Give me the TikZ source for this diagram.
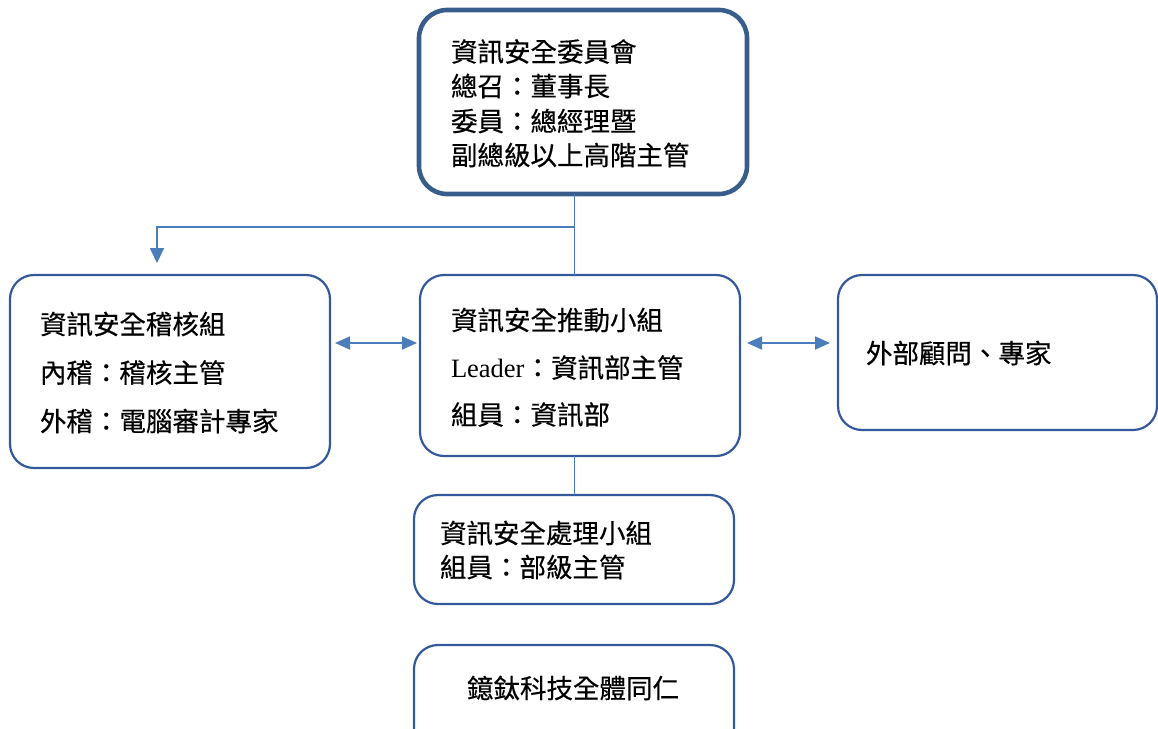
\documentclass[tikz,border=0pt]{standalone}
\usepackage{fontspec}
\setmainfont{Liberation Serif}
\newfontfamily\cjk[FakeBold=0.4]{Noto Sans CJK TC}
\usetikzlibrary{arrows.meta,calc}
\definecolor{topc}{HTML}{385D8A}
\definecolor{boxc}{HTML}{34599A}
\definecolor{arrc}{HTML}{4A7EBB}
\begin{document}
\begin{tikzpicture}[x=1pt,y=-1pt,
  box/.style={draw=boxc, line width=2.2pt, rectangle, rounded corners=24pt, inner sep=0pt, outer sep=0pt},
  topbox/.style={box, draw=topc, line width=4.6pt, rounded corners=28pt},
  txt/.style={anchor=west, inner sep=0pt, outer sep=0pt, font=\cjk\fontsize{26.5}{30}\selectfont},
  conn/.style={draw=arrc, line width=1.8pt},
  tip/.style={-{Triangle[length=15pt,width=14pt]}},
  dbl/.style={{Triangle[length=15pt,width=13pt]}-{Triangle[length=15pt,width=13pt]}}]
\useasboundingbox (0,0) rectangle (1158,728);
% boxes
\node[topbox, minimum width=328pt, minimum height=184pt] (top) at (583,102) {};
\node[box, minimum width=320pt, minimum height=193pt] (left) at (170,371.5) {};
\node[box, minimum width=320pt, minimum height=181pt] (mid) at (580,365.5) {};
\node[box, minimum width=319pt, minimum height=155pt] (right) at (997.5,352.5) {};
\node[box, minimum width=320pt, minimum height=109pt] (proc) at (574,549.5) {};
\node[box, minimum width=320pt, minimum height=115pt] (all) at (574,702.5) {};
% texts
\node[txt] (t1) at (451,51.5) {資訊安全委員會};
\node[txt] (t2) at (451,86) {總召：董事長};
\node[txt] (t3) at (451,121) {委員：總經理暨};
\node[txt] (t4) at (451,155) {副總級以上高階主管};
\node[txt] (l1) at (40,324) {資訊安全稽核組};
\node[txt] (l2) at (40,372.5) {內稽：稽核主管};
\node[txt] (l3) at (40,421) {外稽：電腦審計專家};
\node[txt] (m1) at (451,320) {資訊安全推動小組};
\node[txt] (m2) at (451,367.5) {{\rmfamily Leader}：資訊部主管};
\node[txt] (m3) at (451,414.5) {組員：資訊部};
\node[txt] (r1) at (866,353) {外部顧問、專家};
\node[txt] (p1) at (440,533) {資訊安全處理小組};
\node[txt] (p2) at (440,567) {組員：部級主管};
\node[txt] (b1) at (467,688) {鐿鈦科技全體同仁};
% connectors
\coordinate (j) at (574.5,227);
\coordinate (a) at (157,263);
\coordinate (ay) at (0,343);
\draw[conn] (j |- top.south) -- (j |- mid.north);
\draw[conn,tip] (j) -| (a);
\draw[conn,dbl] ($(left.east |- ay)+(5,0)$) -- ($(mid.west |- ay)+(-3,0)$);
\draw[conn,dbl] ($(mid.east |- ay)+(7,0)$) -- ($(right.west |- ay)+(-8,0)$);
\draw[conn] (j |- mid.south) -- (j |- proc.north);
\end{tikzpicture}
\end{document}
